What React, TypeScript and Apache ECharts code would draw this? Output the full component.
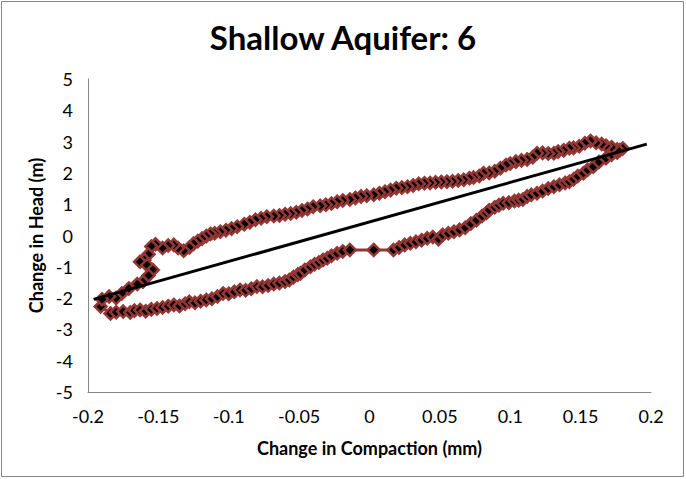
import React, { useEffect, useRef } from "react";
import * as echarts from "echarts";

// Axis ticks
const xTicks = { min: -0.2, max: 0.2, interval: 0.05 };
const yTicks = { min: -5, max: 5, interval: 1 };

// Lower branch of the hysteresis loop (compaction mm, head m), left to right
const lowerBranch: [number, number][] = [
  [-0.191, -2.27], [-0.184, -2.49], [-0.18, -2.45], [-0.175, -2.43], [-0.17, -2.46],
  [-0.167, -2.4], [-0.163, -2.38], [-0.159, -2.42], [-0.155, -2.36], [-0.151, -2.33],
  [-0.147, -2.3], [-0.143, -2.26], [-0.139, -2.22], [-0.135, -2.25], [-0.131, -2.18],
  [-0.128, -2.12], [-0.124, -2.15], [-0.12, -2.1], [-0.116, -2.06], [-0.112, -2.02],
  [-0.108, -1.95], [-0.104, -1.85], [-0.1, -1.86], [-0.096, -1.8], [-0.092, -1.74],
  [-0.088, -1.75], [-0.084, -1.7], [-0.08, -1.63], [-0.076, -1.64], [-0.072, -1.6],
  [-0.068, -1.55], [-0.064, -1.52], [-0.06, -1.47], [-0.057, -1.42], [-0.054, -1.33],
  [-0.051, -1.25], [-0.049, -1.21], [-0.046, -1.1], [-0.042, -1.0], [-0.039, -0.92],
  [-0.036, -0.86], [-0.033, -0.78], [-0.03, -0.73], [-0.027, -0.65], [-0.023, -0.57],
  [-0.019, -0.51], [-0.014, -0.46], [0.003, -0.46], [0.017, -0.46], [0.021, -0.38],
  [0.025, -0.3], [0.029, -0.25], [0.033, -0.2], [0.037, -0.15], [0.041, -0.09],
  [0.045, -0.05], [0.049, -0.12], [0.052, 0.02], [0.056, 0.07], [0.06, 0.12],
  [0.064, 0.18], [0.068, 0.25], [0.072, 0.38], [0.076, 0.49], [0.08, 0.62],
  [0.083, 0.72], [0.085, 0.81], [0.089, 0.9], [0.092, 0.97], [0.095, 1.03],
  [0.099, 1.05], [0.103, 1.1], [0.106, 1.13], [0.109, 1.15], [0.112, 1.25],
  [0.115, 1.3], [0.119, 1.35], [0.123, 1.42], [0.127, 1.5], [0.131, 1.56],
  [0.135, 1.62], [0.139, 1.68], [0.142, 1.72], [0.145, 1.8], [0.148, 1.9],
  [0.152, 1.99], [0.155, 2.1], [0.159, 2.2], [0.163, 2.35], [0.168, 2.47],
  [0.172, 2.58], [0.176, 2.65], [0.178, 2.73],
];

// Upper branch, right to left, ending in the wiggle at the low end
const upperBranch: [number, number][] = [
  [0.18, 2.78], [0.176, 2.75], [0.172, 2.82], [0.168, 2.87], [0.165, 2.92],
  [0.161, 2.96], [0.157, 3.02], [0.153, 2.95], [0.149, 2.85], [0.145, 2.8],
  [0.142, 2.79], [0.138, 2.72], [0.134, 2.68], [0.131, 2.63], [0.127, 2.62],
  [0.123, 2.64], [0.119, 2.63], [0.116, 2.5], [0.112, 2.43], [0.108, 2.4],
  [0.104, 2.36], [0.1, 2.3], [0.097, 2.25], [0.093, 2.15], [0.089, 2.05],
  [0.085, 2.0], [0.081, 1.99], [0.078, 1.9], [0.074, 1.85], [0.071, 1.83],
  [0.067, 1.78], [0.063, 1.76], [0.059, 1.73], [0.055, 1.72], [0.051, 1.71],
  [0.047, 1.7], [0.043, 1.68], [0.039, 1.67], [0.035, 1.65], [0.031, 1.6],
  [0.027, 1.56], [0.023, 1.53], [0.019, 1.51], [0.015, 1.45], [0.011, 1.4],
  [0.007, 1.35], [0.003, 1.3], [-0.002, 1.27], [-0.006, 1.25], [-0.01, 1.2],
  [-0.014, 1.15], [-0.019, 1.12], [-0.023, 1.08], [-0.027, 1.02], [-0.031, 0.98],
  [-0.035, 0.95], [-0.04, 0.92], [-0.044, 0.85], [-0.048, 0.8], [-0.052, 0.74],
  [-0.056, 0.7], [-0.06, 0.68], [-0.064, 0.64], [-0.068, 0.62], [-0.073, 0.6],
  [-0.077, 0.55], [-0.081, 0.5], [-0.085, 0.42], [-0.089, 0.36], [-0.094, 0.28],
  [-0.098, 0.22], [-0.102, 0.17], [-0.106, 0.12], [-0.11, 0.07], [-0.113, 0.05],
  [-0.116, -0.02], [-0.119, -0.1], [-0.122, -0.18], [-0.125, -0.26], [-0.128, -0.38],
  [-0.132, -0.49], [-0.136, -0.4], [-0.139, -0.3], [-0.143, -0.32], [-0.147, -0.4],
  [-0.152, -0.28], [-0.155, -0.35], [-0.157, -0.6], [-0.16, -0.78], [-0.163, -0.84],
  [-0.158, -0.95], [-0.154, -1.1], [-0.157, -1.28], [-0.161, -1.48], [-0.165, -1.55],
  [-0.171, -1.69], [-0.176, -1.85], [-0.18, -2.0], [-0.185, -1.95], [-0.19, -2.04],
];

// Linear trend line end points
const trendLine: [number, number][] = [
  [-0.196, -2.04],
  [0.197, 2.92],
];

const FONT = "Lato, 'Open Sans', sans-serif";

export default function App() {
  const ref = useRef<HTMLDivElement>(null);

  useEffect(() => {
    if (!ref.current) return;
    const chart = echarts.init(ref.current, null, { renderer: "svg" });
    chart.setOption({
      animation: false,
      backgroundColor: "#ffffff",
      title: {
        text: "Shallow Aquifer: 6",
        left: "center",
        top: 15,
        textStyle: { fontFamily: FONT, fontWeight: "bold", fontSize: 33, color: "#000" },
      },
      graphic: [
        {
          type: "rect",
          shape: { x: 1.5, y: 1.5, width: 682, height: 475 },
          style: { fill: "none", stroke: "#868686", lineWidth: 1 },
          silent: true,
        },
      ],
      grid: { left: 88, right: 35, top: 79, bottom: 87 },
      xAxis: {
        type: "value",
        min: xTicks.min,
        max: xTicks.max,
        interval: xTicks.interval,
        name: "Change in Compaction (mm)",
        nameLocation: "middle",
        nameGap: 47,
        nameTextStyle: { fontFamily: FONT, fontWeight: "bold", fontSize: 18, color: "#000" },
        axisLine: { show: true, onZero: false, lineStyle: { color: "#868686", width: 1 } },
        axisTick: { show: false },
        splitLine: { show: false },
        axisLabel: { fontFamily: FONT, fontSize: 18, color: "#000", margin: 15 },
      },
      yAxis: {
        type: "value",
        min: yTicks.min,
        max: yTicks.max,
        interval: yTicks.interval,
        name: "Change in Head (m)",
        nameLocation: "middle",
        nameGap: 38,
        nameRotate: 90,
        nameTextStyle: { fontFamily: FONT, fontWeight: "bold", fontSize: 18, color: "#000" },
        axisLine: { show: true, onZero: false, lineStyle: { color: "#868686", width: 1 } },
        axisTick: { show: false },
        splitLine: { show: false },
        axisLabel: { fontFamily: FONT, fontSize: 18, color: "#000", margin: 15 },
      },
      series: [
        {
          type: "line",
          data: [...lowerBranch, ...upperBranch],
          symbol: "diamond",
          symbolSize: 12,
          showSymbol: true,
          lineStyle: { color: "#953735", width: 3 },
          itemStyle: { color: "#000000", borderColor: "#953735", borderWidth: 2.5 },
          z: 2,
        },
        {
          type: "line",
          data: trendLine,
          symbol: "none",
          lineStyle: { color: "#000000", width: 3 },
          z: 3,
        },
      ],
    });
    return () => chart.dispose();
  }, []);

  return (
    <div
      ref={ref}
      style={{ position: "absolute", left: 0, top: 0, width: 686, height: 479 }}
    />
  );
}
